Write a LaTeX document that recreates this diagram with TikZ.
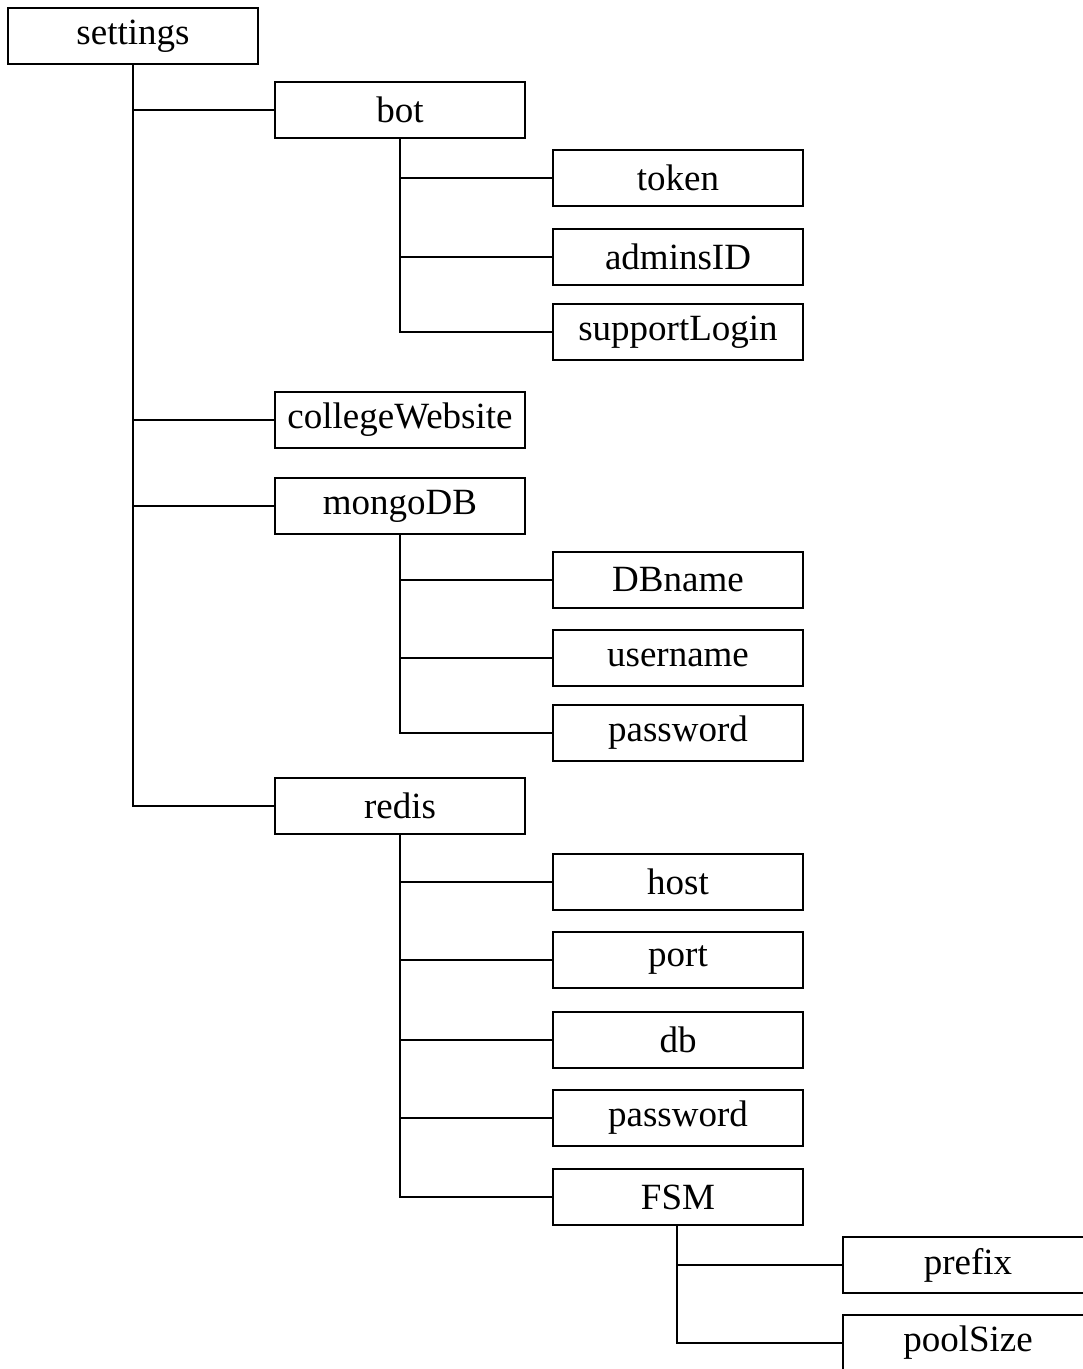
\documentclass[tikz,border=0pt]{standalone}
\usepackage{fontspec}
\setmainfont{Liberation Serif}
\begin{document}
\begin{tikzpicture}[x=1pt,y=-1pt,
  item/.style={draw,line width=2pt,fill=white,minimum width=250pt,minimum height=56pt,
    inner sep=0pt,font=\fontsize{37}{41}\selectfont},
  link/.style={line width=2pt}]
\useasboundingbox (0,0) rectangle (1083,1369);
\begin{scope}
\clip (0,0) rectangle (1083,1369);
% tree connectors
\draw[link] (133,64) |- (400,806);
\foreach \y in {110,420,506} \draw[link] (133,\y) -- (275,\y);
\draw[link] (400,139) |- (678,332);
\foreach \y in {178,257} \draw[link] (400,\y) -- (553,\y);
\draw[link] (400,534) |- (678,733);
\foreach \y in {580,658} \draw[link] (400,\y) -- (553,\y);
\draw[link] (400,834) |- (678,1197);
\foreach \y in {882,960,1040,1118} \draw[link] (400,\y) -- (553,\y);
\draw[link] (677,1225) |- (968,1343);
\draw[link] (677,1265) -- (843,1265);
% boxes
\node[item] (settings) at (133,36) {settings};
\node[item] (bot) at (400,110) {bot};
\node[item] (token) at (678,178) {token};
\node[item] (admins) at (678,257) {adminsID};
\node[item] (support) at (678,332) {supportLogin};
\node[item] (college) at (400,420) {collegeWebsite};
\node[item] (mongo) at (400,506) {mongoDB};
\node[item] (dbname) at (678,580) {DBname};
\node[item] (user) at (678,658) {username};
\node[item] (mpass) at (678,733) {password};
\node[item] (redis) at (400,806) {redis};
\node[item] (host) at (678,882) {host};
\node[item] (port) at (678,960) {port};
\node[item] (db) at (678,1040) {db};
\node[item] (rpass) at (678,1118) {password};
\node[item] (fsm) at (678,1197) {FSM};
\node[item] (prefix) at (968,1265) {prefix};
\node[item] (pool) at (968,1343) {poolSize};
\end{scope}
\end{tikzpicture}
\end{document}
